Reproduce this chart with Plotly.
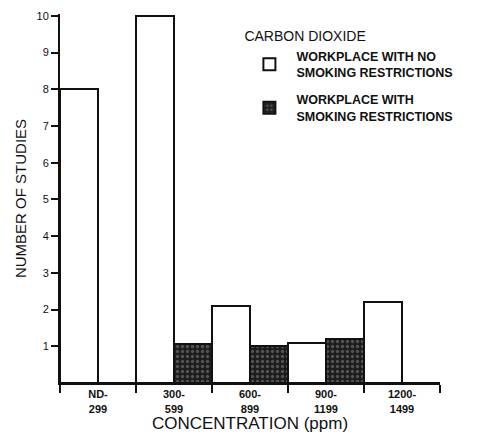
import plotly.graph_objects as go

categories = ["ND-<br>299", "300-<br>599", "600-<br>899", "900-<br>1199", "1200-<br>1499"]
no_restrictions = [8, 10, 2.1, 1.1, 2.2]
with_restrictions = [0, 1.05, 1.0, 1.2, 0]
y_ticks = [1, 2, 3, 4, 5, 6, 7, 8, 9, 10]

font = "Liberation Sans, Arial, sans-serif"

fig = go.Figure()
fig.add_trace(go.Bar(
    x=categories, y=no_restrictions, legendgroup="a",
    name="<b>WORKPLACE WITH NO<br>SMOKING RESTRICTIONS</b>",
    marker=dict(color="white", line=dict(color="#111", width=2)),
))
fig.add_trace(go.Bar(
    x=categories, y=with_restrictions, legendgroup="b",
    name="<b>WORKPLACE WITH<br>SMOKING RESTRICTIONS</b>",
    marker=dict(
        color="#1c1c1c",
        line=dict(color="#111", width=2),
        pattern=dict(shape=".", fgcolor="#8a8a8a", bgcolor="#1c1c1c", size=5, solidity=0.35),
    ),
))

# page body adds an 8px margin, so the figure is 8px smaller than the window
fig.update_layout(
    width=480, height=432,
    margin=dict(l=52, r=48, t=6, b=57),
    paper_bgcolor="white", plot_bgcolor="white",
    barmode="group", bargap=0, bargroupgap=0,
    font=dict(family=font, color="#111", size=10),
    legend=dict(
        title=dict(text="CARBON DIOXIDE", font=dict(size=14)),
        x=0.48, y=0.975, xanchor="left", yanchor="top",
        font=dict(size=12.5), bgcolor="rgba(0,0,0,0)",
        tracegroupgap=8, itemwidth=44,
    ),
    xaxis=dict(
        type="category", tickson="boundaries", ticks="outside", ticklen=8,
        tickwidth=2, tickcolor="#111", showline=True, linecolor="#111", linewidth=2,
        tickfont=dict(size=11, family=font), showgrid=False, automargin=False,
        title=dict(text="CONCENTRATION (ppm)", font=dict(size=17), standoff=2),
    ),
    yaxis=dict(
        range=[0, 10.05], tickvals=y_ticks, ticks="outside", ticklen=7,
        tickwidth=2, tickcolor="#111", showline=True, linecolor="#111", linewidth=2,
        tickfont=dict(size=11, family=font), showgrid=False, zeroline=False, automargin=False,
        title=dict(text="NUMBER OF STUDIES", font=dict(size=15), standoff=6),
    ),
)
fig.update_xaxes(tickprefix="<b>", ticksuffix="</b>")
fig.update_yaxes(tickprefix="<b>", ticksuffix="</b>")

fig.write_html("out.html")
